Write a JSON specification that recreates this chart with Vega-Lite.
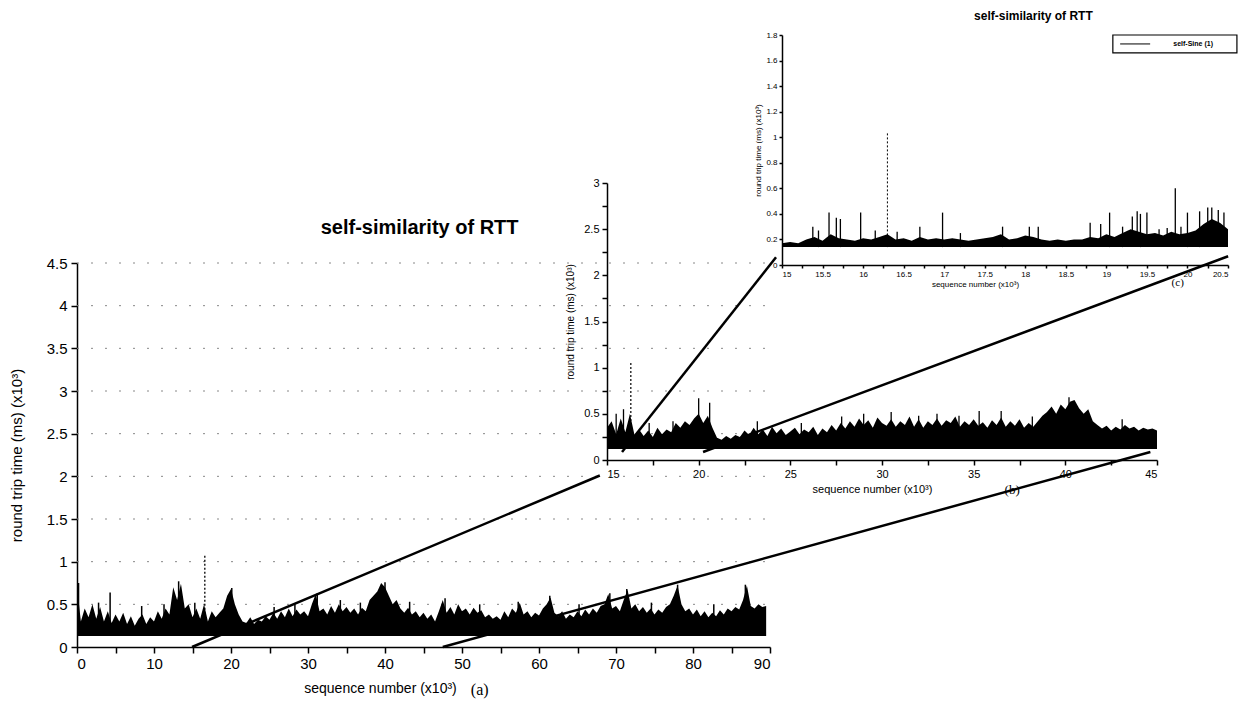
{
  "$schema": "https://vega.github.io/schema/vega-lite/v6.json",
  "width": 1255,
  "height": 706,
  "padding": 0,
  "autosize": {"type": "none"},
  "background": "white",
  "config": {
    "view": {"stroke": null},
    "axis": {"domainColor": "black", "tickColor": "black", "labelColor": "black", "titleColor": "black", "labelFont": "Liberation Sans", "titleFont": "Liberation Sans", "titleFontWeight": "normal", "grid": false, "domainWidth": 1.5, "tickWidth": 1.5}
  },
  "datasets": {
    "aGrid": [{"g": 0.5}, {"g": 1}, {"g": 1.5}, {"g": 2}, {"g": 2.5}, {"g": 3}, {"g": 3.5}, {"g": 4}, {"g": 4.5}],
    "a": [{"x":0,"y":0.72},{"x":0.5,"y":0.3},{"x":1,"y":0.45},{"x":1.5,"y":0.35},{"x":2,"y":0.5},{"x":2.5,"y":0.33},{"x":3,"y":0.47},{"x":3.5,"y":0.3},{"x":4,"y":0.42},{"x":4.5,"y":0.28},{"x":5,"y":0.38},{"x":5.5,"y":0.3},{"x":6,"y":0.4},{"x":6.5,"y":0.27},{"x":7,"y":0.36},{"x":7.5,"y":0.25},{"x":8,"y":0.33},{"x":8.5,"y":0.38},{"x":9,"y":0.27},{"x":9.5,"y":0.35},{"x":10,"y":0.3},{"x":10.5,"y":0.42},{"x":11,"y":0.33},{"x":11.5,"y":0.45},{"x":12,"y":0.38},{"x":12.5,"y":0.7},{"x":13,"y":0.55},{"x":13.5,"y":0.74},{"x":14,"y":0.45},{"x":14.5,"y":0.5},{"x":15,"y":0.35},{"x":15.5,"y":0.45},{"x":16,"y":0.33},{"x":16.5,"y":0.5},{"x":17,"y":0.3},{"x":17.5,"y":0.42},{"x":18,"y":0.35},{"x":18.5,"y":0.4},{"x":19,"y":0.45},{"x":19.5,"y":0.6},{"x":20,"y":0.68},{"x":20.5,"y":0.5},{"x":21,"y":0.38},{"x":21.5,"y":0.3},{"x":22,"y":0.28},{"x":22.5,"y":0.35},{"x":23,"y":0.27},{"x":23.5,"y":0.32},{"x":24,"y":0.3},{"x":24.5,"y":0.36},{"x":25,"y":0.32},{"x":25.5,"y":0.4},{"x":26,"y":0.33},{"x":26.5,"y":0.42},{"x":27,"y":0.35},{"x":27.5,"y":0.45},{"x":28,"y":0.36},{"x":28.5,"y":0.44},{"x":29,"y":0.38},{"x":29.5,"y":0.42},{"x":30,"y":0.36},{"x":30.5,"y":0.5},{"x":31,"y":0.62},{"x":31.5,"y":0.42},{"x":32,"y":0.45},{"x":32.5,"y":0.38},{"x":33,"y":0.48},{"x":33.5,"y":0.4},{"x":34,"y":0.5},{"x":34.5,"y":0.42},{"x":35,"y":0.47},{"x":35.5,"y":0.4},{"x":36,"y":0.45},{"x":36.5,"y":0.38},{"x":37,"y":0.46},{"x":37.5,"y":0.42},{"x":38,"y":0.55},{"x":38.5,"y":0.6},{"x":39,"y":0.65},{"x":39.5,"y":0.75},{"x":40,"y":0.7},{"x":40.5,"y":0.6},{"x":41,"y":0.5},{"x":41.5,"y":0.55},{"x":42,"y":0.45},{"x":42.5,"y":0.4},{"x":43,"y":0.46},{"x":43.5,"y":0.38},{"x":44,"y":0.42},{"x":44.5,"y":0.35},{"x":45,"y":0.4},{"x":45.5,"y":0.33},{"x":46,"y":0.38},{"x":46.5,"y":0.3},{"x":47,"y":0.42},{"x":47.5,"y":0.55},{"x":48,"y":0.4},{"x":48.5,"y":0.47},{"x":49,"y":0.38},{"x":49.5,"y":0.5},{"x":50,"y":0.42},{"x":50.5,"y":0.45},{"x":51,"y":0.38},{"x":51.5,"y":0.46},{"x":52,"y":0.4},{"x":52.5,"y":0.43},{"x":53,"y":0.35},{"x":53.5,"y":0.38},{"x":54,"y":0.33},{"x":54.5,"y":0.36},{"x":55,"y":0.32},{"x":55.5,"y":0.42},{"x":56,"y":0.35},{"x":56.5,"y":0.45},{"x":57,"y":0.4},{"x":57.5,"y":0.52},{"x":58,"y":0.38},{"x":58.5,"y":0.42},{"x":59,"y":0.35},{"x":59.5,"y":0.4},{"x":60,"y":0.37},{"x":60.5,"y":0.45},{"x":61,"y":0.5},{"x":61.5,"y":0.58},{"x":62,"y":0.4},{"x":62.5,"y":0.36},{"x":63,"y":0.42},{"x":63.5,"y":0.33},{"x":64,"y":0.38},{"x":64.5,"y":0.35},{"x":65,"y":0.42},{"x":65.5,"y":0.36},{"x":66,"y":0.44},{"x":66.5,"y":0.38},{"x":67,"y":0.45},{"x":67.5,"y":0.4},{"x":68,"y":0.48},{"x":68.5,"y":0.5},{"x":69,"y":0.62},{"x":69.5,"y":0.45},{"x":70,"y":0.48},{"x":70.5,"y":0.42},{"x":71,"y":0.55},{"x":71.5,"y":0.67},{"x":72,"y":0.45},{"x":72.5,"y":0.5},{"x":73,"y":0.42},{"x":73.5,"y":0.47},{"x":74,"y":0.4},{"x":74.5,"y":0.45},{"x":75,"y":0.38},{"x":75.5,"y":0.44},{"x":76,"y":0.4},{"x":76.5,"y":0.47},{"x":77,"y":0.5},{"x":77.5,"y":0.6},{"x":78,"y":0.72},{"x":78.5,"y":0.5},{"x":79,"y":0.42},{"x":79.5,"y":0.45},{"x":80,"y":0.38},{"x":80.5,"y":0.44},{"x":81,"y":0.36},{"x":81.5,"y":0.42},{"x":82,"y":0.35},{"x":82.5,"y":0.4},{"x":83,"y":0.36},{"x":83.5,"y":0.43},{"x":84,"y":0.38},{"x":84.5,"y":0.45},{"x":85,"y":0.42},{"x":85.5,"y":0.47},{"x":86,"y":0.44},{"x":86.5,"y":0.55},{"x":87,"y":0.72},{"x":87.5,"y":0.48},{"x":88,"y":0.45},{"x":88.5,"y":0.5},{"x":89,"y":0.47},{"x":89.5,"y":0.48}],
    "aSp": [{"x":0.2,"y":0.75},{"x":2.8,"y":0.52},{"x":4.3,"y":0.64},{"x":8.4,"y":0.48},{"x":11.3,"y":0.5},{"x":13.2,"y":0.77},{"x":15.3,"y":0.52},{"x":20.1,"y":0.69},{"x":25.6,"y":0.47},{"x":28.3,"y":0.5},{"x":31.2,"y":0.63},{"x":34.2,"y":0.55},{"x":36.8,"y":0.52},{"x":40,"y":0.76},{"x":43.2,"y":0.53},{"x":47.8,"y":0.57},{"x":52.3,"y":0.5},{"x":57.3,"y":0.53},{"x":61.4,"y":0.6},{"x":65.2,"y":0.5},{"x":69.2,"y":0.63},{"x":71.4,"y":0.68},{"x":74.6,"y":0.52},{"x":78,"y":0.73},{"x":82.7,"y":0.5},{"x":86.8,"y":0.73}],
    "aTall": [{"x":16.6,"y":1.07}],
    "aLink": [{"id":1,"x":14.94,"y":0},{"id":1,"x":67.9,"y":2.01},{"id":2,"x":47.5,"y":0},{"id":2,"x":139.4,"y":2.285}],
    "b": [{"x":15,"y":0.35},{"x":15.25,"y":0.42},{"x":15.5,"y":0.28},{"x":15.75,"y":0.45},{"x":16,"y":0.3},{"x":16.25,"y":0.5},{"x":16.5,"y":0.27},{"x":16.75,"y":0.33},{"x":17,"y":0.26},{"x":17.25,"y":0.32},{"x":17.5,"y":0.25},{"x":17.75,"y":0.35},{"x":18,"y":0.28},{"x":18.25,"y":0.33},{"x":18.5,"y":0.3},{"x":18.75,"y":0.4},{"x":19,"y":0.35},{"x":19.25,"y":0.42},{"x":19.5,"y":0.38},{"x":19.75,"y":0.45},{"x":20,"y":0.5},{"x":20.25,"y":0.4},{"x":20.5,"y":0.48},{"x":20.75,"y":0.35},{"x":21,"y":0.24},{"x":21.25,"y":0.22},{"x":21.5,"y":0.26},{"x":21.75,"y":0.23},{"x":22,"y":0.27},{"x":22.25,"y":0.25},{"x":22.5,"y":0.32},{"x":22.75,"y":0.27},{"x":23,"y":0.35},{"x":23.25,"y":0.28},{"x":23.5,"y":0.33},{"x":23.75,"y":0.26},{"x":24,"y":0.36},{"x":24.25,"y":0.29},{"x":24.5,"y":0.34},{"x":24.75,"y":0.27},{"x":25,"y":0.31},{"x":25.25,"y":0.35},{"x":25.5,"y":0.28},{"x":25.75,"y":0.33},{"x":26,"y":0.3},{"x":26.25,"y":0.36},{"x":26.5,"y":0.27},{"x":26.75,"y":0.34},{"x":27,"y":0.3},{"x":27.25,"y":0.38},{"x":27.5,"y":0.32},{"x":27.75,"y":0.4},{"x":28,"y":0.34},{"x":28.25,"y":0.42},{"x":28.5,"y":0.36},{"x":28.75,"y":0.45},{"x":29,"y":0.38},{"x":29.25,"y":0.43},{"x":29.5,"y":0.35},{"x":29.75,"y":0.46},{"x":30,"y":0.4},{"x":30.25,"y":0.37},{"x":30.5,"y":0.44},{"x":30.75,"y":0.36},{"x":31,"y":0.42},{"x":31.25,"y":0.38},{"x":31.5,"y":0.47},{"x":31.75,"y":0.36},{"x":32,"y":0.44},{"x":32.25,"y":0.35},{"x":32.5,"y":0.42},{"x":32.75,"y":0.38},{"x":33,"y":0.45},{"x":33.25,"y":0.37},{"x":33.5,"y":0.43},{"x":33.75,"y":0.4},{"x":34,"y":0.47},{"x":34.25,"y":0.36},{"x":34.5,"y":0.42},{"x":34.75,"y":0.38},{"x":35,"y":0.44},{"x":35.25,"y":0.37},{"x":35.5,"y":0.41},{"x":35.75,"y":0.35},{"x":36,"y":0.43},{"x":36.25,"y":0.38},{"x":36.5,"y":0.46},{"x":36.75,"y":0.36},{"x":37,"y":0.42},{"x":37.25,"y":0.37},{"x":37.5,"y":0.44},{"x":37.75,"y":0.35},{"x":38,"y":0.4},{"x":38.25,"y":0.36},{"x":38.5,"y":0.42},{"x":38.75,"y":0.48},{"x":39,"y":0.52},{"x":39.25,"y":0.58},{"x":39.5,"y":0.5},{"x":39.75,"y":0.6},{"x":40,"y":0.55},{"x":40.25,"y":0.63},{"x":40.5,"y":0.65},{"x":40.75,"y":0.56},{"x":41,"y":0.5},{"x":41.25,"y":0.55},{"x":41.5,"y":0.42},{"x":41.75,"y":0.38},{"x":42,"y":0.34},{"x":42.25,"y":0.37},{"x":42.5,"y":0.32},{"x":42.75,"y":0.36},{"x":43,"y":0.33},{"x":43.25,"y":0.38},{"x":43.5,"y":0.34},{"x":43.75,"y":0.36},{"x":44,"y":0.32},{"x":44.25,"y":0.35},{"x":44.5,"y":0.33},{"x":44.75,"y":0.34},{"x":45,"y":0.32}],
    "bSp": [{"x":15.5,"y":0.5},{"x":15.9,"y":0.55},{"x":17.3,"y":0.4},{"x":18.6,"y":0.42},{"x":20,"y":0.67},{"x":20.6,"y":0.62},{"x":23.2,"y":0.42},{"x":25.6,"y":0.4},{"x":27.8,"y":0.47},{"x":29,"y":0.5},{"x":30.5,"y":0.52},{"x":32,"y":0.48},{"x":33,"y":0.5},{"x":34.2,"y":0.48},{"x":35.3,"y":0.53},{"x":36.5,"y":0.53},{"x":38.2,"y":0.47},{"x":40.2,"y":0.68},{"x":43.1,"y":0.44}],
    "bTall": [{"x":16.3,"y":1.05}],
    "bLink": [{"id":3,"x":15.82,"y":0.087},{"id":3,"x":24.22,"y":2.196},{"id":4,"x":20.24,"y":0.087},{"id":4,"x":48.88,"y":2.207}],
    "c": [{"x":15,"y":0.17},{"x":15.1,"y":0.18},{"x":15.2,"y":0.17},{"x":15.3,"y":0.2},{"x":15.4,"y":0.22},{"x":15.5,"y":0.19},{"x":15.6,"y":0.24},{"x":15.7,"y":0.21},{"x":15.8,"y":0.2},{"x":15.9,"y":0.19},{"x":16,"y":0.21},{"x":16.1,"y":0.2},{"x":16.2,"y":0.22},{"x":16.3,"y":0.24},{"x":16.4,"y":0.2},{"x":16.5,"y":0.21},{"x":16.6,"y":0.19},{"x":16.7,"y":0.22},{"x":16.8,"y":0.2},{"x":16.9,"y":0.21},{"x":17,"y":0.2},{"x":17.1,"y":0.21},{"x":17.2,"y":0.2},{"x":17.3,"y":0.19},{"x":17.4,"y":0.2},{"x":17.5,"y":0.21},{"x":17.6,"y":0.22},{"x":17.7,"y":0.24},{"x":17.8,"y":0.2},{"x":17.9,"y":0.21},{"x":18,"y":0.23},{"x":18.1,"y":0.22},{"x":18.2,"y":0.2},{"x":18.3,"y":0.19},{"x":18.4,"y":0.2},{"x":18.5,"y":0.19},{"x":18.6,"y":0.2},{"x":18.7,"y":0.2},{"x":18.8,"y":0.22},{"x":18.9,"y":0.21},{"x":19,"y":0.24},{"x":19.1,"y":0.22},{"x":19.2,"y":0.25},{"x":19.3,"y":0.28},{"x":19.4,"y":0.26},{"x":19.5,"y":0.24},{"x":19.6,"y":0.25},{"x":19.7,"y":0.23},{"x":19.8,"y":0.26},{"x":19.9,"y":0.24},{"x":20,"y":0.25},{"x":20.1,"y":0.27},{"x":20.2,"y":0.32},{"x":20.3,"y":0.36},{"x":20.4,"y":0.33},{"x":20.5,"y":0.28}],
    "cSp": [{"x":15.38,"y":0.3},{"x":15.45,"y":0.27},{"x":15.58,"y":0.41},{"x":15.67,"y":0.37},{"x":15.72,"y":0.36},{"x":15.97,"y":0.41},{"x":16.15,"y":0.27},{"x":16.42,"y":0.26},{"x":16.7,"y":0.3},{"x":16.98,"y":0.41},{"x":17.2,"y":0.25},{"x":17.72,"y":0.3},{"x":18.05,"y":0.3},{"x":18.16,"y":0.3},{"x":18.8,"y":0.33},{"x":18.93,"y":0.32},{"x":19.04,"y":0.41},{"x":19.2,"y":0.3},{"x":19.32,"y":0.38},{"x":19.38,"y":0.42},{"x":19.42,"y":0.4},{"x":19.5,"y":0.41},{"x":19.65,"y":0.28},{"x":19.75,"y":0.29},{"x":19.85,"y":0.6},{"x":19.92,"y":0.3},{"x":20,"y":0.41},{"x":20.15,"y":0.42},{"x":20.25,"y":0.45},{"x":20.3,"y":0.45},{"x":20.38,"y":0.43},{"x":20.45,"y":0.41}],
    "cTall": [{"x":16.3,"y":1.03}]
  },
  "layer": [
    {
      "layer": [
        {
          "data": {"name": "aGrid"},
          "mark": {"type": "rule", "strokeDash": [2, 12], "color": "#888", "strokeWidth": 1},
          "encoding": {
            "x": {"datum": 0, "type": "quantitative"},
            "x2": {"datum": 90},
            "y": {"field": "g", "type": "quantitative"}
          }
        },
        {
          "data": {"name": "a"},
          "mark": {"type": "area", "color": "black"},
          "encoding": {
            "x": {"field": "x", "type": "quantitative", "scale": {"domain": [0, 90], "range": [77, 770], "nice": false, "zero": false},
              "axis": {"orient": "bottom", "offset": -59, "values": [0,5,10,15,20,25,30,35,40,45,50,55,60,65,70,75,80,85,90], "labelExpr": "datum.value % 10 === 0 ? format(datum.value, '~g') : ''", "tickSize": 6, "labelFontSize": 15, "labelPadding": 3, "title": "sequence number (x10³)", "titleFontSize": 14, "titlePadding": 10, "titleX": 380}},
            "y": {"field": "y", "type": "quantitative", "scale": {"domain": [0, 4.5], "range": [647, 263], "nice": false, "zero": false},
              "axis": {"orient": "left", "offset": -77, "values": [0,0.5,1,1.5,2,2.5,3,3.5,4,4.5], "format": "~g", "tickSize": 6, "labelFontSize": 15, "labelPadding": 4, "title": "round trip time (ms) (x10³)", "titleFontSize": 15, "titlePadding": 22}},
            "y2": {"datum": 0.13}
          }
        },
        {
          "data": {"name": "aSp"},
          "mark": {"type": "rule", "color": "black", "strokeWidth": 1.5},
          "encoding": {"x": {"field": "x", "type": "quantitative"}, "y": {"field": "y", "type": "quantitative"}, "y2": {"datum": 0.13}}
        },
        {
          "data": {"name": "aTall"},
          "mark": {"type": "rule", "color": "black", "strokeWidth": 1.3, "strokeDash": [2, 2]},
          "encoding": {"x": {"field": "x", "type": "quantitative"}, "y": {"field": "y", "type": "quantitative"}, "y2": {"datum": 0.13}}
        },
        {
          "data": {"name": "aLink"},
          "mark": {"type": "line", "color": "black", "strokeWidth": 2.5},
          "encoding": {"x": {"field": "x", "type": "quantitative"}, "y": {"field": "y", "type": "quantitative"}, "detail": {"field": "id"}}
        },
        {
          "data": {"values": [{"t": "self-similarity of RTT", "x": 44.5, "y": 4.91}]},
          "mark": {"type": "text", "font": "Liberation Sans", "fontWeight": "bold", "fontSize": 20, "color": "black"},
          "encoding": {"x": {"field": "x", "type": "quantitative"}, "y": {"field": "y", "type": "quantitative"}, "text": {"field": "t"}}
        },
        {
          "data": {"values": [{"t": "(a)", "x": 52.3, "y": -0.5}]},
          "mark": {"type": "text", "font": "Liberation Serif", "fontSize": 16, "color": "black"},
          "encoding": {"x": {"field": "x", "type": "quantitative"}, "y": {"field": "y", "type": "quantitative"}, "text": {"field": "t"}}
        }
      ]
    },
    {
      "layer": [
        {
          "data": {"name": "b"},
          "mark": {"type": "area", "color": "black"},
          "encoding": {
            "x": {"field": "x", "type": "quantitative", "scale": {"domain": [15, 45], "range": [607, 1157], "nice": false, "zero": false},
              "axis": {"orient": "bottom", "offset": -246, "values": [15,17.5,20,22.5,25,27.5,30,32.5,35,37.5,40,42.5,45], "labelExpr": "datum.value % 5 === 0 ? format(datum.value, '~g') : ''", "tickSize": 5, "labelFontSize": 11, "labelPadding": 3, "title": "sequence number (x10³)", "titleFontSize": 11, "titlePadding": 4, "titleX": 872}},
            "y": {"field": "y", "type": "quantitative", "scale": {"domain": [0, 3], "range": [460, 183], "nice": false, "zero": false},
              "axis": {"orient": "left", "offset": -607, "values": [0,0.25,0.5,0.75,1,1.25,1.5,1.75,2,2.25,2.5,2.75,3], "labelExpr": "round(datum.value*4) % 2 === 0 ? format(datum.value, '~g') : ''", "tickSize": 5, "labelFontSize": 11, "labelPadding": 3, "title": "round trip time (ms) (x10³)", "titleFontSize": 10, "titlePadding": 8}},
            "y2": {"datum": 0.12}
          }
        },
        {
          "data": {"name": "bSp"},
          "mark": {"type": "rule", "color": "black", "strokeWidth": 1.3},
          "encoding": {"x": {"field": "x", "type": "quantitative"}, "y": {"field": "y", "type": "quantitative"}, "y2": {"datum": 0.12}}
        },
        {
          "data": {"name": "bTall"},
          "mark": {"type": "rule", "color": "black", "strokeWidth": 1.2, "strokeDash": [2, 2]},
          "encoding": {"x": {"field": "x", "type": "quantitative"}, "y": {"field": "y", "type": "quantitative"}, "y2": {"datum": 0.12}}
        },
        {
          "data": {"name": "bLink"},
          "mark": {"type": "line", "color": "black", "strokeWidth": 2.5},
          "encoding": {"x": {"field": "x", "type": "quantitative"}, "y": {"field": "y", "type": "quantitative"}, "detail": {"field": "id"}}
        },
        {
          "data": {"values": [{"t": "(b)", "x": 37.1, "y": -0.33}]},
          "mark": {"type": "text", "font": "Liberation Serif", "fontSize": 13, "color": "black"},
          "encoding": {"x": {"field": "x", "type": "quantitative"}, "y": {"field": "y", "type": "quantitative"}, "text": {"field": "t"}}
        }
      ]
    },
    {
      "layer": [
        {
          "data": {"name": "c"},
          "mark": {"type": "area", "color": "black"},
          "encoding": {
            "x": {"field": "x", "type": "quantitative", "scale": {"domain": [15, 20.5], "range": [782, 1228], "nice": false, "zero": false},
              "axis": {"orient": "bottom", "offset": -441, "values": [15,15.25,15.5,15.75,16,16.25,16.5,16.75,17,17.25,17.5,17.75,18,18.25,18.5,18.75,19,19.25,19.5,19.75,20,20.25,20.5], "labelExpr": "round(datum.value*4) % 2 === 0 ? format(datum.value, '~g') : ''", "tickSize": 3, "labelFontSize": 8, "labelPadding": 2, "title": "sequence number (x10³)", "titleFontSize": 8, "titlePadding": 2, "titleX": 975}},
            "y": {"field": "y", "type": "quantitative", "scale": {"domain": [0, 1.8], "range": [265, 35], "nice": false, "zero": false},
              "axis": {"orient": "left", "offset": -782, "values": [0,0.1,0.2,0.3,0.4,0.5,0.6,0.7,0.8,0.9,1,1.1,1.2,1.3,1.4,1.5,1.6,1.7,1.8], "labelExpr": "round(datum.value*10) % 2 === 0 ? format(datum.value, '~g') : ''", "tickSize": 3, "labelFontSize": 8, "labelPadding": 2, "title": "round trip time (ms) (x10³)", "titleFontSize": 8, "titlePadding": 3}},
            "y2": {"datum": 0.14}
          }
        },
        {
          "data": {"name": "cSp"},
          "mark": {"type": "rule", "color": "black", "strokeWidth": 1.3},
          "encoding": {"x": {"field": "x", "type": "quantitative"}, "y": {"field": "y", "type": "quantitative"}, "y2": {"datum": 0.14}}
        },
        {
          "data": {"name": "cTall"},
          "mark": {"type": "rule", "color": "black", "strokeWidth": 1, "strokeDash": [2, 2]},
          "encoding": {"x": {"field": "x", "type": "quantitative"}, "y": {"field": "y", "type": "quantitative"}, "y2": {"datum": 0.14}}
        },
        {
          "data": {"values": [{"x": 19.08, "x2": 20.61, "y": 1.8, "y2": 1.66}]},
          "mark": {"type": "rect", "fill": "white", "stroke": "black", "strokeWidth": 1.2},
          "encoding": {"x": {"field": "x", "type": "quantitative"}, "x2": {"field": "x2"}, "y": {"field": "y", "type": "quantitative"}, "y2": {"field": "y2"}}
        },
        {
          "data": {"values": [{"x": 19.17, "y": 1.73}, {"x": 19.54, "y": 1.73}]},
          "mark": {"type": "line", "color": "black", "strokeWidth": 1},
          "encoding": {"x": {"field": "x", "type": "quantitative"}, "y": {"field": "y", "type": "quantitative"}}
        },
        {
          "data": {"values": [{"t": "self-Sine (1)", "x": 20.07, "y": 1.73}]},
          "mark": {"type": "text", "font": "Liberation Sans", "fontWeight": "bold", "fontSize": 7, "color": "black"},
          "encoding": {"x": {"field": "x", "type": "quantitative"}, "y": {"field": "y", "type": "quantitative"}, "text": {"field": "t"}}
        },
        {
          "data": {"values": [{"t": "self-similarity of RTT", "x": 18.1, "y": 1.95}]},
          "mark": {"type": "text", "font": "Liberation Sans", "fontWeight": "bold", "fontSize": 12, "color": "black"},
          "encoding": {"x": {"field": "x", "type": "quantitative"}, "y": {"field": "y", "type": "quantitative"}, "text": {"field": "t"}}
        },
        {
          "data": {"values": [{"t": "(c)", "x": 19.88, "y": -0.14}]},
          "mark": {"type": "text", "font": "Liberation Serif", "fontSize": 11, "color": "black"},
          "encoding": {"x": {"field": "x", "type": "quantitative"}, "y": {"field": "y", "type": "quantitative"}, "text": {"field": "t"}}
        }
      ]
    }
  ],
  "resolve": {"scale": {"x": "independent", "y": "independent"}, "axis": {"x": "independent", "y": "independent"}}
}
